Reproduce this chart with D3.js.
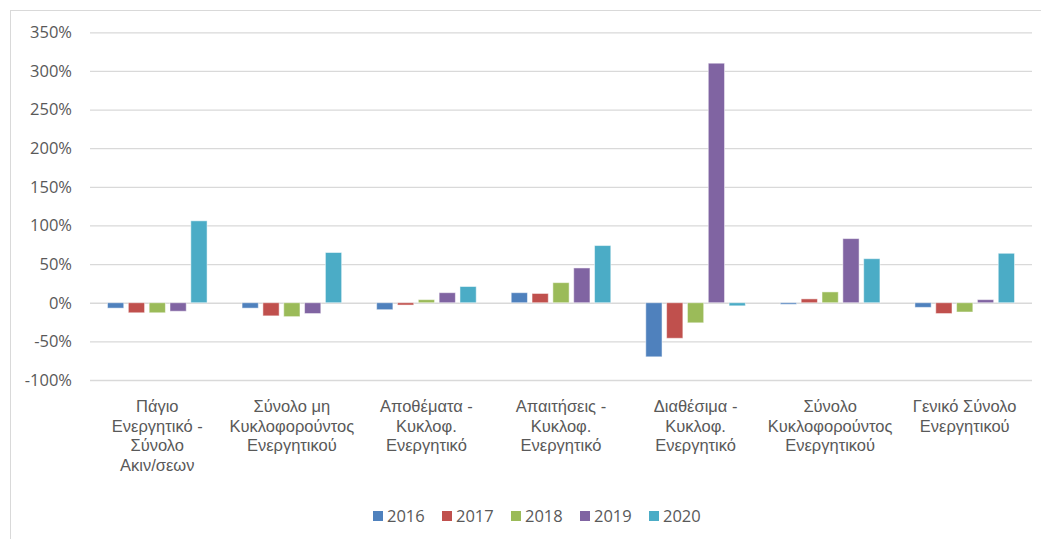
<!DOCTYPE html>
<html lang="el">
<head>
<meta charset="UTF-8">
<title>Μεταβολές Ενεργητικού</title>
<script src="https://d3js.org/d3.v7.min.js"></script>
<style>
  body { margin: 0; background: #fff; font-family: "Open Sans", "Noto Sans", sans-serif; }
  svg { display: block; }
  .tick text { fill: #595959; }
</style>
</head>
<body>
<svg id="chart" width="1041" height="539"></svg>
<script>
const categories = [
  ["Πάγιο", "Ενεργητικό -", "Σύνολο", "Ακιν/σεων"],
  ["Σύνολο μη", "Κυκλοφορούντος", "Ενεργητικού"],
  ["Αποθέματα -", "Κυκλοφ.", "Ενεργητικό"],
  ["Απαιτήσεις -", "Κυκλοφ.", "Ενεργητικό"],
  ["Διαθέσιμα -", "Κυκλοφ.", "Ενεργητικό"],
  ["Σύνολο", "Κυκλοφορούντος", "Ενεργητικού"],
  ["Γενικό Σύνολο", "Ενεργητικού"]
];
const years = ["2016", "2017", "2018", "2019", "2020"];
const colors = ["#4F81BD", "#C0504D", "#9BBB59", "#8064A2", "#4BACC6"];
// values in %, one array per year, same order as categories
const v2016 = [-7, -7, -9, 13, -70, -2, -6];
const v2017 = [-13, -17, -3, 12, -46, 5, -14];
const v2018 = [-13, -18, 4, 26, -26, 14, -12];
const v2019 = [-11, -14, 13, 45, 310, 83, 4];
const v2020 = [106, 65, 21, 74, -4, 57, 64];
const series = [v2016, v2017, v2018, v2019, v2020];
const yTicks = [-100, -50, 0, 50, 100, 150, 200, 250, 300, 350];

const width = 1041, height = 539;
const plot = { left: 90, right: 1032, top: 32.3, bottom: 380 };

const svg = d3.select("#chart");

// outer chart border
svg.append("rect")
  .attr("x", 10.5).attr("y", 10.5)
  .attr("width", width).attr("height", height)
  .attr("fill", "none").attr("stroke", "#d9d9d9").attr("stroke-width", 1);

const x0 = d3.scaleBand()
  .domain(d3.range(categories.length))
  .range([plot.left, plot.right])
  .paddingInner(0.26).paddingOuter(0.13);

const x1 = d3.scaleBand()
  .domain(d3.range(years.length))
  .range([0, x0.bandwidth()])
  .paddingInner(0.22).paddingOuter(0);

const y = d3.scaleLinear()
  .domain([-100, 350])
  .range([plot.bottom, plot.top]);

// gridlines + y labels
const yAxis = d3.axisLeft(y)
  .tickValues(yTicks)
  .tickFormat(d => d + "%")
  .tickSize(-(plot.right - plot.left))
  .tickPadding(18);

const yg = svg.append("g")
  .attr("transform", `translate(${plot.left},0)`)
  .call(yAxis);
yg.select(".domain").remove();
yg.selectAll(".tick line").attr("stroke", "#d9d9d9").attr("stroke-width", 1.3);
yg.selectAll(".tick text")
  .attr("font-size", 16.5)
  .attr("font-family", "'Open Sans', sans-serif");

// bars
const groups = svg.append("g").selectAll("g")
  .data(categories)
  .join("g")
  .attr("transform", (d, i) => `translate(${x0(i)},0)`);

groups.selectAll("rect")
  .data((d, i) => series.map((s, k) => ({ k, v: s[i] })))
  .join("rect")
  .attr("x", d => x1(d.k))
  .attr("width", x1.bandwidth())
  .attr("y", d => y(Math.max(0, d.v)))
  .attr("height", d => Math.abs(y(d.v) - y(0)))
  .attr("fill", d => colors[d.k])
  .attr("stroke", "#fff")
  .attr("stroke-opacity", 0.5)
  .attr("stroke-width", 1);

// category labels
const labels = svg.append("g")
  .attr("font-size", 16.5)
  .attr("font-family", "'Liberation Sans', Arial, sans-serif")
  .attr("fill", "#595959")
  .attr("text-anchor", "middle");

categories.forEach((lines, i) => {
  const t = labels.append("text")
    .attr("x", x0(i) + x0.bandwidth() / 2)
    .attr("y", 412);
  lines.forEach((ln, j) => {
    t.append("tspan")
      .attr("x", x0(i) + x0.bandwidth() / 2)
      .attr("dy", j === 0 ? 0 : 19.6)
      .text(ln);
  });
});

// legend
const legend = svg.append("g")
  .attr("transform", "translate(373,516)");
const item = legend.selectAll("g")
  .data(years)
  .join("g")
  .attr("transform", (d, i) => `translate(${i * 69},0)`);
item.append("rect")
  .attr("x", 0).attr("y", -5)
  .attr("width", 10).attr("height", 10)
  .attr("fill", (d, i) => colors[i]);
item.append("text")
  .attr("x", 14).attr("y", 6)
  .attr("font-size", 16.5)
  .attr("fill", "#595959")
  .text(d => d);
</script>
</body>
</html>
